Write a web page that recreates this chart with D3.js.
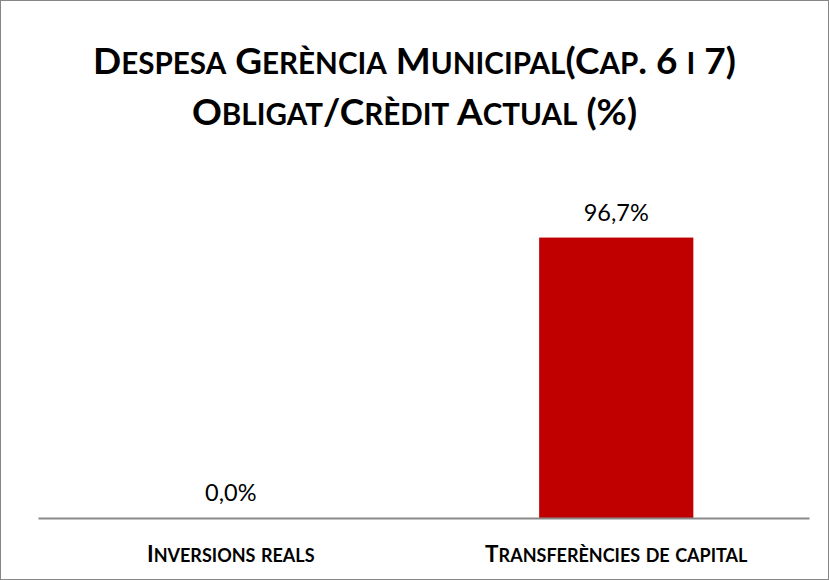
<!DOCTYPE html>
<html>
<head>
<meta charset="utf-8">
<script src="https://cdn.jsdelivr.net/npm/d3@7"></script>
<style>
  html, body { margin: 0; padding: 0; background: #fff; }
  svg { display: block; }
  text { font-family: Lato, "Open Sans", sans-serif; }
</style>
</head>
<body>
<svg id="chart" width="829" height="580"></svg>
<script>
// Budget execution ratio (obligations / current credit), chapters 6 and 7
const titleLines = ["Despesa Gerència Municipal(Cap. 6 i 7)", "Obligat/Crèdit Actual (%)"];
const categories = ["Inversions reals", "Transferències de capital"];
const values = [0.0, 0.967];
const valueLabels = ["0,0%", "96,7%"];

const W = 829, H = 580;
const plot = { left: 38, right: 809, top: 228, bottom: 518 };
const SMALL = 0.8; // small-caps scale for lowercase letters

const svg = d3.select("#chart");

// Write a string into a <text> as small caps: capitals, digits and
// punctuation at full size, lowercase letters as reduced capitals.
function smallCaps(textSel, str, size) {
  textSel.text(null);
  const runs = [];
  for (const ch of str) {
    const small = ch !== ch.toUpperCase();
    const last = runs[runs.length - 1];
    if (last && last.small === small) last.s += ch;
    else runs.push({ small, s: ch });
  }
  runs.forEach(r => {
    textSel.append("tspan")
      .attr("font-size", r.small ? size * SMALL : size)
      .text(r.small ? r.s.toUpperCase() : r.s);
  });
}

// outer frame
svg.append("rect")
  .attr("x", 0.5).attr("y", 0.5)
  .attr("width", W - 1).attr("height", H - 1)
  .attr("fill", "#fff").attr("stroke", "#868686").attr("stroke-width", 1);

// title
const titleSize = 37;
titleLines.forEach((line, i) => {
  const t = svg.append("text")
    .attr("x", W / 2)
    .attr("y", 74 + i * 51)
    .attr("text-anchor", "middle")
    .attr("font-weight", "bold")
    .attr("fill", "#000");
  smallCaps(t, line, titleSize);
});

const x = d3.scaleBand()
  .domain(categories)
  .range([plot.left, plot.right])
  .padding(0);

const y = d3.scaleLinear()
  .domain([0, 1])
  .range([plot.bottom, plot.top]);

const barFrac = 0.4;
const data = categories.map((c, i) => ({ cat: c, value: values[i], label: valueLabels[i] }));

svg.append("g").selectAll("rect")
  .data(data)
  .join("rect")
  .attr("x", d => x(d.cat) + x.bandwidth() * (1 - barFrac) / 2)
  .attr("width", x.bandwidth() * barFrac)
  .attr("y", d => y(d.value))
  .attr("height", d => y(0) - y(d.value))
  .attr("fill", "#c00000");

// value labels
svg.append("g").selectAll("text")
  .data(data)
  .join("text")
  .attr("x", d => x(d.cat) + x.bandwidth() / 2)
  .attr("y", d => y(d.value) - 17)
  .attr("text-anchor", "middle")
  .attr("font-size", 23.5)
  .attr("fill", "#000")
  .text(d => d.label);

// category axis
const axis = svg.append("g")
  .attr("transform", `translate(0,${plot.bottom})`)
  .call(d3.axisBottom(x).tickSize(0).tickPadding(0));
axis.select(".domain").attr("stroke", "#898989").attr("stroke-width", 2);
axis.selectAll(".tick text")
  .attr("dy", null)
  .attr("y", 44)
  .attr("font-family", "Lato, 'Open Sans', sans-serif")
  .attr("font-weight", "bold")
  .attr("fill", "#000")
  .each(function (d) { smallCaps(d3.select(this), d, 22.5); });
</script>
</body>
</html>
